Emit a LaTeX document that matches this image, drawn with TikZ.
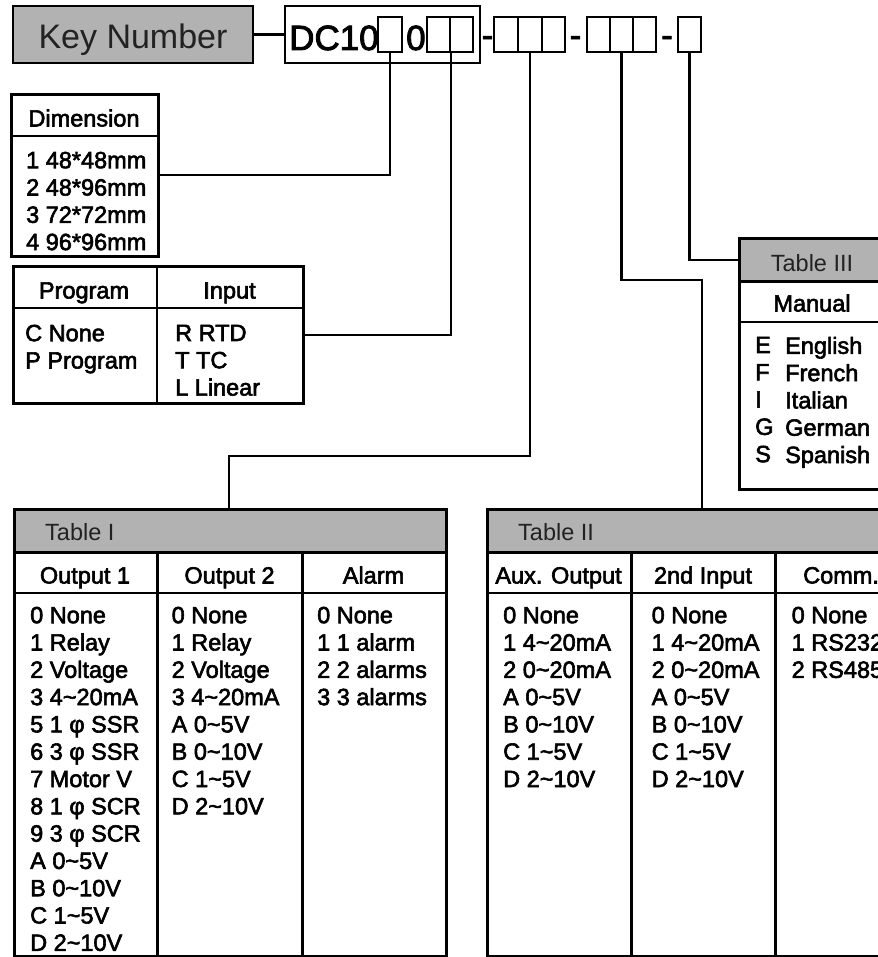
\documentclass[tikz,border=0pt]{standalone}
\usepackage{fontspec}
\setmainfont{Liberation Sans}
\newfontfamily\heavy{Liberation Sans}[FakeBold=2.5]
\newcommand{\tld}{\textasciitilde}
\definecolor{hdgray}{HTML}{B2B2B2}
\definecolor{txtgray}{HTML}{222222}
\tikzset{
  cell/.style={draw, line width=2.2pt, minimum width=#1, minimum height=35pt, inner sep=0pt},
  tabbox/.style={draw, line width=3pt, anchor=north west, inner sep=0pt},
  wire/.style={line width=2.2pt},
  list/.style={anchor=north west, inner sep=0pt, align=left, font=\heavy\fontsize{23.5}{27.3}\selectfont},
  head/.style={anchor=base, inner sep=0pt, font=\heavy\fontsize{23.5}{28}\selectfont},
  title/.style={anchor=base west, inner sep=0pt, text=txtgray, font=\fontsize{23.5}{28}\selectfont},
  hyph/.style={anchor=base, inner sep=0pt, font=\heavy\fontsize{35}{40}\selectfont}
}
\begin{document}
\begin{tikzpicture}[x=1pt,y=-1pt]
\useasboundingbox (0,0) rectangle (877,957);
% key number row:
\node[draw, line width=2pt, fill=hdgray, minimum width=240pt, minimum height=57pt, anchor=north west, inner sep=0pt, text height=28pt, text depth=0pt, text=txtgray, font=\fontsize{34}{40}\selectfont] (key) at (12,5) {Key Number};
\node[draw, line width=2pt, minimum width=195pt, minimum height=57pt, anchor=north west, inner sep=0pt] (code) at (284,5) {};
\draw[wire] (key) -- (code);
\node[anchor=base west, inner sep=0pt, font=\heavy\fontsize{35}{40}\selectfont] (dc) at (289,50) {DC10};
\node[anchor=base west, inner sep=0pt, font=\heavy\fontsize{35}{40}\selectfont] (zero) at (406,50) {0};
% code cells:
\node[cell=24pt] (d1) at (390,34.5) {};
\node[cell=23pt] (d2a) at (438.5,34.5) {};
\node[cell=23pt] (d2b) at (461.5,34.5) {};
\node[hyph] (h1) at (487.5,47) {-};
\node[cell=24pt] (t1a) at (506,34.5) {};
\node[cell=24pt] (t1b) at (530,34.5) {};
\node[cell=23pt] (t1c) at (553.5,34.5) {};
\node[hyph] (h2) at (575.5,47) {-};
\node[cell=23pt] (t2a) at (598.5,34.5) {};
\node[cell=23pt] (t2b) at (621.5,34.5) {};
\node[cell=23pt] (t2c) at (644.5,34.5) {};
\node[hyph] (h3) at (667,47) {-};
\node[cell=23pt] (s1) at (689.5,34.5) {};

% dimension:
\node[tabbox, line width=2.6pt, minimum width=147pt, minimum height=162pt] (dim) at (10,93) {};
\draw[line width=1.8pt] (10,136) -- (157,136);
\node[head] (dimhd) at (84,126.5) {Dimension};
\node[list] (dimls) at (26,151.6) {1 48*48mm\\2 48*96mm\\3 72*72mm\\4 96*96mm};

% program / input:
\node[tabbox, line width=2.6pt, minimum width=290pt, minimum height=137pt] (progin) at (12,265) {};
\draw[line width=1.5pt] (12,308) -- (302,308);
\draw[line width=2.6pt] (157,265) -- (157,402);
\node[head] (proghd) at (84,298.5) {Program};
\node[head] (inhd) at (229.5,298.5) {Input};
\node[list] (progls) at (25,324.6) {C None\\P Program};
\node[list] (inls) at (175,324.6) {R RTD\\T TC\\L Linear};

% table III:
\node[tabbox, minimum width=148pt, minimum height=251pt] (tab3) at (738,237) {};
\node[tabbox, fill=hdgray, minimum width=148pt, minimum height=43pt] (tab3head) at (738,237) {};
\draw[line width=2pt] (738,322) -- (886,322);
\node[title, anchor=base] (tab3tt) at (812,271.5) {Table III};
\node[head] (manhd) at (812,311.5) {Manual};
\node[list] (manky) at (755,336.6) {E\\F\\I\\G\\S};
\node[list] (manls) at (785,336.6) {English\\French\\Italian\\German\\Spanish};

% table I:
\node[tabbox, minimum width=432pt, minimum height=447pt] (tab1) at (13,508) {};
\node[tabbox, fill=hdgray, minimum width=432pt, minimum height=43pt] (tab1head) at (13,508) {};
\draw[line width=2.6pt] (13,593) -- (445,593);
\draw[line width=3pt] (157,551) -- (157,955);
\draw[line width=3pt] (302,551) -- (302,955);
\node[title] (tab1tt) at (45,540) {Table I};
\node[head] (o1hd) at (85,583.5) {Output 1};
\node[head] (o2hd) at (229.5,583.5) {Output 2};
\node[head] (alhd) at (373.5,583.5) {Alarm};
\node[list] (o1ls) at (30,606.6) {0 None\\1 Relay\\2 Voltage\\3 4\tld20mA\\5 1 φ SSR\\6 3 φ SSR\\7 Motor V\\8 1 φ SCR\\9 3 φ SCR\\A 0\tld5V\\B 0\tld10V\\C 1\tld5V\\D 2\tld10V};
\node[list] (o2ls) at (171.5,606.6) {0 None\\1 Relay\\2 Voltage\\3 4\tld20mA\\A 0\tld5V\\B 0\tld10V\\C 1\tld5V\\D 2\tld10V};
\node[list] (alls) at (317,606.6) {0 None\\1 1 alarm\\2 2 alarms\\3 3 alarms};

% table II:
\node[tabbox, minimum width=434pt, minimum height=447pt] (tab2) at (486,508) {};
\node[tabbox, fill=hdgray, minimum width=434pt, minimum height=43pt] (tab2head) at (486,508) {};
\draw[line width=2.6pt] (486,593) -- (920,593);
\draw[line width=3pt] (631,551) -- (631,955);
\draw[line width=3pt] (775,551) -- (775,955);
\node[title] (tab2tt) at (518,540) {Table II};
\node[head] (auxhd) at (558.5,583.5) {Aux. Output};
\node[head] (in2hd) at (703,583.5) {2nd Input};
\node[head, anchor=base west] (comhd) at (803,583.5) {Comm.};
\node[list] (auxls) at (503,606.6) {0 None\\1 4\tld20mA\\2 0\tld20mA\\A 0\tld5V\\B 0\tld10V\\C 1\tld5V\\D 2\tld10V};
\node[list] (in2ls) at (651.5,606.6) {0 None\\1 4\tld20mA\\2 0\tld20mA\\A 0\tld5V\\B 0\tld10V\\C 1\tld5V\\D 2\tld10V};
\node[list] (comls) at (791.5,606.6) {0 None\\1 RS232\\2 RS485};

% connectors:
\coordinate (k1) at (229,456);
\coordinate (k2) at (702,280);
\draw[wire] (d1.south) |- (dim.east);
\draw[wire] (d2a.south east) |- (progin.east);
\draw[wire] (t1b.south) |- (k1) -- (k1 |- tab1.north);
\draw[wire] (t2b.south) |- (k2) -- (k2 |- tab2.north);
\draw[wire] (s1.south) |- (tab3head.west);
\end{tikzpicture}
\end{document}
